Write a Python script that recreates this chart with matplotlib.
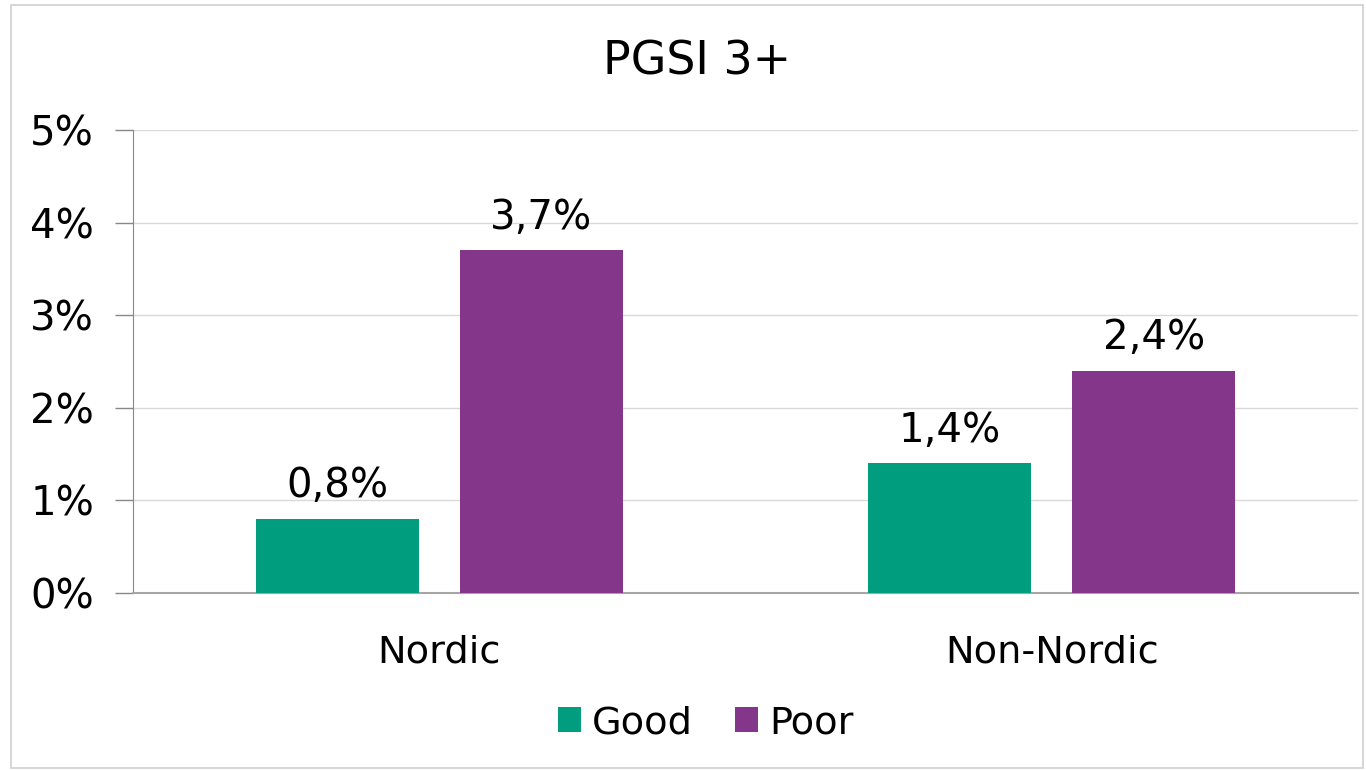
import matplotlib.pyplot as plt
import numpy as np

# Data
categories = ['Nordic', 'Non-Nordic']
good = [0.8, 1.4]
poor = [3.7, 2.4]
series_names = ['Good', 'Poor']
colors = ['#009E7F', '#84378A']

plt.rcParams['font.family'] = 'DejaVu Sans'

fig = plt.figure(figsize=(13.66, 7.7), dpi=100)
ax = fig.add_axes([133 / 1366, 1 - 593 / 770, 1225 / 1366, 463 / 770])

# light border around the figure
fig.patches.append(plt.Rectangle((11 / 1366, 0.002), 1 - 11 / 1366 - 0.002, 1 - 5 / 770 - 0.002,
                                 transform=fig.transFigure, fill=False,
                                 edgecolor='#d0d0d0', linewidth=1.2))

x = np.arange(len(categories))
width = 0.266
offset = 0.1665

bars_good = ax.bar(x - offset, good, width, color=colors[0], label=series_names[0], zorder=3)
bars_poor = ax.bar(x + offset, poor, width, color=colors[1], label=series_names[1], zorder=3)

for bars, vals in [(bars_good, good), (bars_poor, poor)]:
    for b, v in zip(bars, vals):
        ax.annotate(f'{v:.1f}%'.replace('.', ','),
                    (b.get_x() + b.get_width() / 2, v),
                    xytext=(0, 9), textcoords='offset points',
                    ha='center', va='bottom', fontsize=29, color='black')

ax.set_xlim(-0.5, 1.5)
ax.set_ylim(0, 5)
ax.set_yticks(range(0, 6))
ax.set_yticklabels([f'{i}%' for i in range(0, 6)], fontsize=29)
ax.set_xticks(x)
ax.set_xticklabels(categories, fontsize=27.5)
ax.tick_params(axis='x', length=0, pad=30)
ax.tick_params(axis='y', length=13, width=1, color='#888888', pad=15)

ax.grid(axis='y', color='#d9d9d9', linewidth=1, zorder=0)
for s in ['top', 'right']:
    ax.spines[s].set_visible(False)
ax.spines['left'].set_color('#888888')
ax.spines['bottom'].set_color('#a6a6a6')
ax.spines['bottom'].set_linewidth(1.5)

fig.text(697 / 1366, 1 - 62 / 770, 'PGSI 3+', ha='center', va='center', fontsize=33)

fig.legend(loc='center', bbox_to_anchor=(706 / 1366, 1 - 723 / 770), ncol=2,
           frameon=False, fontsize=27.5, handlelength=0.6, handleheight=0.6,
           handletextpad=0.3, columnspacing=1.1)

fig.savefig('out.png', dpi=100)
